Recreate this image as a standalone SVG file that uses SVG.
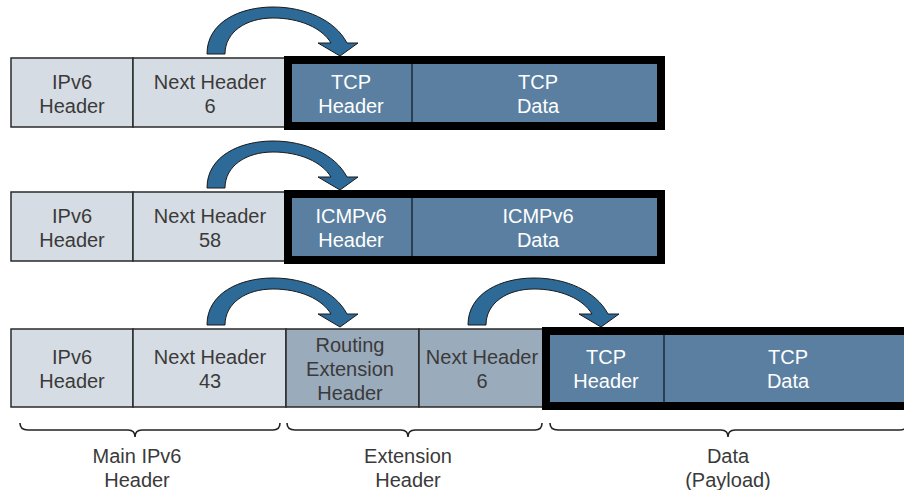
<svg xmlns="http://www.w3.org/2000/svg" width="904" height="490" viewBox="0 0 904 490">
<defs>
<style>
.lg{fill:#d6dce3;stroke:#2a2a2a;stroke-width:1.5}
.md{fill:#9aabbc;stroke:#2a2a2a;stroke-width:1.5}
.bl{fill:#5a7fa0;stroke:#000;stroke-width:8}
.dv{stroke:#1e2a36;stroke-width:1.5}
.dvg{stroke:#2a2a2a;stroke-width:1.5}
text{font-family:"Liberation Sans",Arial,sans-serif;font-size:20px;text-anchor:middle}
.dk{fill:#3a3a3a}
.wt{fill:#ffffff}
.arr{fill:#2d6a97;stroke:#1a1a1a;stroke-width:1}
.br{fill:none;stroke:#222;stroke-width:1.6}
</style>
<path id="arrow" d="M207,54 C207,22 240,7 273,7 C305,7 335,20 347,43 L358,43 L340,56 L318,43 L331,43 C322,28 300,18 273,18 C246,18 225,32 225,54 Z"/>
</defs>
<rect width="904" height="490" fill="#ffffff"/>

<g id="row1">
<g id="r1-ipv6"><rect class="lg" x="11" y="58" width="122" height="69"/><text class="dk" x="72" y="89">IPv6</text><text class="dk" x="72" y="113">Header</text></g>
<g id="r1-next"><rect class="lg" x="133" y="58" width="155" height="69"/><text class="dk" x="210" y="89">Next Header</text><text class="dk" x="210" y="113">6</text></g>
<g id="r1-payload"><rect class="bl" x="288" y="60" width="373" height="66"/><line class="dv" x1="412" y1="64" x2="412" y2="122"/>
<text class="wt" x="351" y="89">TCP</text><text class="wt" x="351" y="113">Header</text>
<text class="wt" x="538" y="89">TCP</text><text class="wt" x="538" y="113">Data</text></g>
</g>

<g id="row2">
<g id="r2-ipv6"><rect class="lg" x="11" y="192" width="122" height="69"/><text class="dk" x="72" y="223">IPv6</text><text class="dk" x="72" y="247">Header</text></g>
<g id="r2-next"><rect class="lg" x="133" y="192" width="155" height="69"/><text class="dk" x="210" y="223">Next Header</text><text class="dk" x="210" y="247">58</text></g>
<g id="r2-payload"><rect class="bl" x="288" y="194" width="373" height="66"/><line class="dv" x1="412" y1="198" x2="412" y2="256"/>
<text class="wt" x="351" y="223">ICMPv6</text><text class="wt" x="351" y="247">Header</text>
<text class="wt" x="538" y="223">ICMPv6</text><text class="wt" x="538" y="247">Data</text></g>
</g>

<g id="row3">
<g id="r3-ipv6"><rect class="lg" x="11" y="329" width="122" height="78"/><text class="dk" x="72" y="364">IPv6</text><text class="dk" x="72" y="388">Header</text></g>
<g id="r3-next"><rect class="lg" x="133" y="329" width="153" height="78"/><text class="dk" x="210" y="364">Next Header</text><text class="dk" x="210" y="388">43</text></g>
<g id="r3-routing"><rect class="md" x="286" y="329" width="133" height="78"/><text class="dk" x="350" y="352">Routing</text><text class="dk" x="350" y="376">Extension</text><text class="dk" x="350" y="400">Header</text></g>
<g id="r3-next2"><rect class="md" x="419" y="329" width="127" height="78"/><text class="dk" x="482" y="364">Next Header</text><text class="dk" x="482" y="388">6</text></g>
<g id="r3-payload"><rect class="bl" x="546" y="331" width="400" height="75"/><line class="dv" x1="664" y1="335" x2="664" y2="402"/>
<text class="wt" x="606" y="364">TCP</text><text class="wt" x="606" y="388">Header</text>
<text class="wt" x="788" y="364">TCP</text><text class="wt" x="788" y="388">Data</text></g>
</g>

<g id="connectors">
<use href="#arrow" class="arr"/>
<use href="#arrow" class="arr" transform="translate(0,134)"/>
<use href="#arrow" class="arr" transform="translate(0,271)"/>
<use href="#arrow" class="arr" transform="translate(261,271)"/>
</g>

<g id="braces">
<path class="br" d="M20,423 Q20,430 28,430 L128,430 Q135,430 135,437 Q135,430 142,430 L273,430 Q280,430 280,423"/>
<path class="br" d="M287,423 Q287,430 295,430 L401,430 Q408,430 408,437 Q408,430 415,430 L535,430 Q542,430 542,423"/>
<path class="br" d="M550,423 Q550,430 558,430 L721,430 Q728,430 728,437 Q728,430 735,430 L900,430 Q907,430 907,423"/>
</g>

<g id="labels">
<text class="dk" x="137" y="463">Main IPv6</text><text class="dk" x="137" y="487">Header</text>
<text class="dk" x="408" y="463">Extension</text><text class="dk" x="408" y="487">Header</text>
<text class="dk" x="728" y="463">Data</text><text class="dk" x="728" y="487">(Payload)</text>
</g>
</svg>
